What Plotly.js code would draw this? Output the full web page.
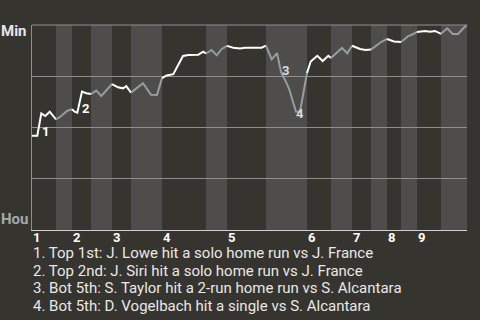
<!DOCTYPE html>
<html>
<head>
<meta charset="utf-8">
<script src="https://cdn.plot.ly/plotly-3.0.1.min.js"></script>
<style>
  html, body { margin: 0; padding: 0; background: #36342f; }
  #chart { width: 480px; height: 320px; }
</style>
</head>
<body>
<div id="chart"></div>
<script>
// Game progress (plate-appearance scale) and Minnesota win probability (%)
const progress = [
  0, 1.06, 1.86, 2.66, 3.54, 4.2, 4.8,
  5.86, 7.06, 8,
  8.54, 9.06, 10, 10.86, 11.8,
  12.86, 13.86, 14.86, 16,
  17.2, 18.2, 18.86, 19.8,
  21.2, 22.2, 23.8, 25, 26,
  26.94, 28.26, 30.2, 31.26, 33.26, 34.26, 34.8,
  35.94, 36.94, 37.94, 39,
  40.26, 41.6, 42.6, 45.9, 46.8,
  47.94, 49, 49.8, 50.6, 51.4, 52.8, 53.6, 55,
  55.74, 57.06, 58.14, 59.26, 59.8,
  62, 63.06, 64,
  65.6, 66.7, 67.8,
  69.8, 71,
  72.4, 73.8,
  75.26, 76.2, 77,
  78.6, 79.6, 80.6, 81.8,
  83.06, 84.14, 85.2, 86.26, 87
];
const winProb = [
  46.0, 46.0, 56.9, 55.6, 57.7, 55.6, 54.0,
  55.6, 58.2, 58.9,
  57.7, 57.2, 67.5, 66.7, 66.3,
  68.0, 65.4, 68.0, 71.2,
  69.6, 69.1, 70.2, 67.0,
  69.6, 71.6, 66.0, 65.9, 74.1,
  75.4, 76.0, 84.9, 85.4, 85.5, 87.0, 86.1,
  87.8, 85.2, 88.3, 89.8,
  88.9, 88.5, 88.9, 88.9, 89.9,
  83.2, 86.3, 77.1, 73.2, 69.0, 57.7, 57.7, 76.6,
  82.2, 85.0, 82.4, 85.0, 83.9,
  88.8, 86.2, 89.9,
  88.3, 87.8, 88.0,
  91.7, 93.2,
  92.0, 91.7,
  94.6, 95.5, 96.6,
  97.1, 96.7, 97.1, 95.7,
  98.4, 95.6, 95.6, 98.4, 100
];
// End of each half-inning on the progress scale: Top 1st, Bot 1st, Top 2nd, ...
const halfEnds = [4.8, 8, 11.8, 16, 19.8, 26, 34.8, 39, 46.8, 55, 59.8, 64, 67.8, 71, 73.8, 77, 81.8, 87];
const inningLabels = ['1', '2', '3', '4', '5', '6', '7', '8', '9'];
const teamNames = ['Min', 'Hou'];

// Key plays: point index on the curve, marker number, description
const eventPoint = [2, 12, 46, 49];
const eventMarks = ['1', '2', '3', '4'];
const eventNotes = [
  'Top 1st: J. Lowe hit a solo home run vs J. France',
  'Top 2nd: J. Siri hit a solo home run vs J. France',
  'Bot 5th: S. Taylor hit a 2-run home run vs S. Alcantara',
  'Bot 5th: D. Vogelbach hit a single vs S. Alcantara'
];

const BG = '#36342f';
const BAND = '#4e4d4b';
const GRID = '#8e8e8c';
const TOP_LINE = '#ffffff';
const BOT_LINE = '#959d9e';
const FONT = 'Roboto, "Open Sans", sans-serif';

// Which half-inning each point belongs to
const halfOf = x => halfEnds.findIndex(e => x <= e + 1e-9);

// One line segment per half-inning, joined to the previous half's last point
const traces = [];
for (let h = 0; h < halfEnds.length; h++) {
  const idx = progress.map((_, i) => i).filter(i => halfOf(progress[i]) === h);
  if (!idx.length) continue;
  const seg = idx[0] > 0 ? [idx[0] - 1, ...idx] : idx;
  traces.push({
    x: seg.map(i => progress[i]),
    y: seg.map(i => winProb[i]),
    mode: 'lines',
    line: { color: h % 2 === 0 ? TOP_LINE : BOT_LINE, width: 2 },
    hoverinfo: 'skip',
    showlegend: false
  });
}

// Shaded bands for the bottom halves
const shapes = [];
for (let h = 1; h < halfEnds.length; h += 2) {
  shapes.push({
    type: 'rect', layer: 'below',
    xref: 'x', yref: 'paper',
    x0: halfEnds[h - 1], x1: halfEnds[h], y0: 0, y1: 1,
    fillcolor: BAND, line: { width: 0 }
  });
}
// Frame line along the top edge of the plot
shapes.push({
  type: 'line', layer: 'above', xref: 'paper', yref: 'paper',
  x0: 0, x1: 1, y0: 1, y1: 1, line: { color: GRID, width: 1 }
});

const annotations = [];

// Inning numbers at the start of each top half
const inningStarts = [0].concat(halfEnds.filter((_, i) => i % 2 === 1 && i < halfEnds.length - 1));
inningLabels.forEach((t, i) => {
  annotations.push({
    text: '<b>' + t + '</b>', x: inningStarts[i], xref: 'x',
    y: 0, yref: 'paper', xanchor: 'left', yanchor: 'middle', yshift: -7, borderpad: 0,
    showarrow: false, font: { family: FONT, size: 13, color: '#ffffff' }
  });
});

// Team labels on the left
annotations.push({
  text: '<b>' + teamNames[0] + '</b>', x: 0, xref: 'paper', y: 1, yref: 'paper',
  xanchor: 'right', yanchor: 'middle', xshift: -4, yshift: -6, borderpad: 0, showarrow: false,
  font: { family: FONT, size: 15, color: '#e6e6e6' }
});
annotations.push({
  text: '<b>' + teamNames[1] + '</b>', x: 0, xref: 'paper', y: 0, yref: 'paper',
  xanchor: 'right', yanchor: 'middle', xshift: -3, yshift: 11, borderpad: 0, showarrow: false,
  font: { family: FONT, size: 15, color: '#a3aaab' }
});

// Numbered markers next to the key plays
const markShift = [[4, -18], [3, -17], [4, 1], [4, -2]];
const markColor = ['#ffffff', '#ffffff', '#d9dddd', '#d9dddd'];
eventPoint.forEach((p, i) => {
  annotations.push({
    text: '<b>' + eventMarks[i] + '</b>', x: progress[p], y: winProb[p],
    xref: 'x', yref: 'y', xanchor: 'center', yanchor: 'middle',
    xshift: markShift[i][0], yshift: markShift[i][1], showarrow: false,
    font: { family: FONT, size: 13, color: markColor[i] }
  });
});

// Play descriptions under the chart, one line each
eventNotes.forEach((n, i) => {
  annotations.push({
    text: eventMarks[i] + '. ' + n,
    x: 0, xref: 'paper', y: 0, yref: 'paper', xanchor: 'left', yanchor: 'middle',
    align: 'left', yshift: -23 - i * 17.7, borderpad: 0, showarrow: false,
    font: { family: FONT, size: 15, color: '#e8e8e8' }
  });
});

const layout = {
  width: 480, height: 320,
  margin: { l: 32, r: 13, t: 25, b: 90 },
  paper_bgcolor: BG, plot_bgcolor: BG,
  showlegend: false,
  xaxis: {
    range: [0, halfEnds[halfEnds.length - 1]],
    showgrid: false, zeroline: false, showticklabels: false, ticks: '',
    showline: true, linecolor: '#cfcfcf', linewidth: 1, fixedrange: true
  },
  yaxis: {
    range: [0, 100], tickvals: [25, 50, 75],
    showgrid: true, gridcolor: GRID, gridwidth: 1,
    zeroline: false, showticklabels: false, ticks: '',
    showline: true, linecolor: GRID, linewidth: 1, fixedrange: true
  },
  shapes: shapes,
  annotations: annotations
};

Plotly.newPlot('chart', traces, layout, { staticPlot: true, displayModeBar: false });
</script>
</body>
</html>
